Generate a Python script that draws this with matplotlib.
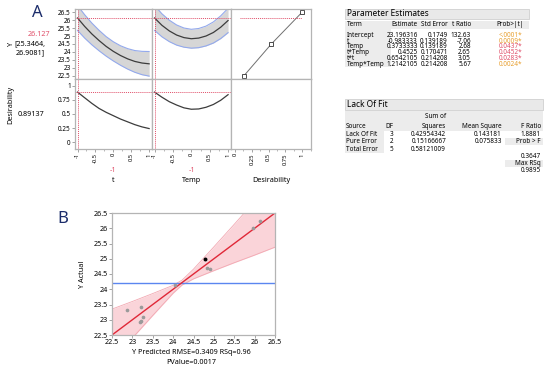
import numpy as np
import matplotlib.pyplot as plt
from matplotlib.patches import Rectangle
from matplotlib.ticker import MultipleLocator

plt.rcParams['font.family'] = ['Noto Sans', 'DejaVu Sans']
plt.rcParams['axes.unicode_minus'] = False

W, H = 550, 373

# ---- panel A: prediction profiler ----
fx = [-1, -0.8, -0.6, -0.4, -0.2, 0, 0.2, 0.4, 0.6, 0.8, 1]
y_t = [26.13, 25.60, 25.13, 24.72, 24.35, 24.04, 23.78, 23.57, 23.41, 23.31, 23.26]
y_t_lo = [25.35, 24.87, 24.45, 24.08, 23.74, 23.44, 23.17, 22.93, 22.73, 22.58, 22.49]
y_t_hi = [26.91, 26.33, 25.81, 25.36, 24.96, 24.64, 24.39, 24.21, 24.09, 24.04, 24.03]
y_temp = [26.13, 25.67, 25.32, 25.06, 24.90, 24.83, 24.87, 25.00, 25.22, 25.55, 25.97]
y_temp_lo = [25.35, 24.95, 24.65, 24.43, 24.30, 24.24, 24.27, 24.38, 24.56, 24.84, 25.21]
y_temp_hi = [26.91, 26.39, 25.99, 25.69, 25.50, 25.42, 25.47, 25.62, 25.88, 26.26, 26.73]
d_t = [0.891, 0.79, 0.69, 0.60, 0.53, 0.47, 0.41, 0.36, 0.31, 0.27, 0.24]
d_temp = [0.891, 0.80, 0.72, 0.66, 0.61, 0.585, 0.59, 0.62, 0.67, 0.745, 0.845]
desir_x = [0.13, 0.54, 1.0]
desir_y = [22.5, 24.5, 26.5]
cur_y = 26.127
cur_d = 0.89137
cur_x = -1
factor_ticks = [-1, -0.5, 0, 0.5, 1]
factor_labels = ['-1', '-0.5', '0', '0.5', '1']
d_ticks = [0, 0.25, 0.5, 0.75, 1]
d_labels = ['0', '0.25', '0.5', '0.75', '1']
y_ticks = [22.5, 23, 23.5, 24, 24.5, 25, 25.5, 26, 26.5]
y_labels = ['22.5', '23', '23.5', '24', '24.5', '25', '25.5', '26', '26.5']

# ---- parameter estimates ----
terms = ['Intercept', 't', 'Temp', 't*Temp', 't*t', 'Temp*Temp']
estimates = ['23.196316', '-0.983333', '0.3733333', '0.4525', '0.6542105', '1.2142105']
std_err = ['0.1749', '0.139189', '0.139189', '0.170471', '0.214208', '0.214208']
t_ratio = ['132.63', '-7.06', '2.68', '2.65', '3.05', '5.67']
prob_t = ['<.0001*', '0.0009*', '0.0437*', '0.0452*', '0.0283*', '0.0024*']

# ---- lack of fit ----
lof_source = ['Lack Of Fit', 'Pure Error', 'Total Error']
lof_df = ['3', '2', '5']
lof_ss = ['0.42954342', '0.15166667', '0.58121009']
lof_ms = ['0.143181', '0.075833', '']
f_ratio = '1.8881'
prob_f = '0.3647'
max_rsq = '0.9895'

# ---- panel B: actual by predicted ----
pred = [22.87, 23.20, 23.20, 23.18, 23.26, 24.04, 24.84, 24.91, 25.96, 26.12]
actual = [23.33, 23.43, 22.97, 22.92, 23.08, 24.15, 24.71, 24.66, 26.01, 26.23]
sel_pred, sel_actual = [24.79], [25.0]
band_x = [22.5, 23.0, 23.5, 24.0, 24.22, 24.5, 25.0, 25.5, 26.0, 26.5]
band_lo = [21.65, 22.40, 23.14, 23.87, 24.14, 24.34, 24.61, 24.87, 25.12, 25.38]
band_hi = [23.35, 23.60, 23.86, 24.13, 24.30, 24.66, 25.39, 26.13, 26.88, 27.62]
fit_x = [22.5, 26.5]
mean_actual = 24.22

RED = '#e0506a'
ORANGE = '#e8a030'
NAVY = '#1c2d6b'
GRID = '#b4b4b4'

fig = plt.figure(figsize=(W / 100, H / 100), dpi=100)


def box(l, t, r, b):
    return [l / W, 1 - b / H, (r - l) / W, (b - t) / H]


def txt(x, y, s, **kw):
    kw.setdefault('fontsize', 4.6)
    kw.setdefault('va', 'center')
    fig.text(x / W, 1 - y / H, s, **kw)


def rect(l, t, r, b, fc, ec='none'):
    fig.add_artist(Rectangle((l / W, 1 - b / H), (r - l) / W, (b - t) / H,
                             transform=fig.transFigure, facecolor=fc,
                             edgecolor=ec, lw=0.5))


def style(ax):
    for s in ax.spines.values():
        s.set_color(GRID)
        s.set_linewidth(0.9)
    ax.tick_params(length=2, width=0.5, color='#808080', labelsize=4.6, pad=1)
    ax.tick_params(which='minor', length=1.2, width=0.4, color='#808080')


cols = [(75, 152), (152, 231), (231, 311)]
rows = [(9, 79), (79, 149)]
axs = [[fig.add_axes(box(c[0], r[0], c[1], r[1])) for c in cols] for r in rows]

red_dash = dict(color=RED, lw=0.7, ls=(0, (1, 1)))

for j, (yy, lo, hi) in enumerate([(y_t, y_t_lo, y_t_hi), (y_temp, y_temp_lo, y_temp_hi)]):
    ax = axs[0][j]
    ax.fill_between(fx, lo, hi, color='#d6d6d6', lw=0)
    ax.plot(fx, lo, color='#93a9ec', lw=0.8)
    ax.plot(fx, hi, color='#93a9ec', lw=0.8)
    ax.plot(fx, yy, color='#3c3c3c', lw=0.9)
    ax.axhline(cur_y, **red_dash)
    ax.axvline(cur_x, **red_dash)

for j, dd in enumerate([d_t, d_temp]):
    ax = axs[1][j]
    ax.plot(fx, dd, color='#3c3c3c', lw=0.9)
    ax.axhline(cur_d, **red_dash)
    ax.axvline(cur_x, **red_dash)

ax = axs[0][2]
ax.plot(desir_x, desir_y, color='#707070', lw=0.7, marker='s', ms=2.2,
        mfc='white', mec='#303030', mew=0.6)
ax.plot([0.07, 1.0], [cur_y, cur_y], **red_dash)

for i in range(2):
    for j in range(3):
        ax = axs[i][j]
        style(ax)
        if j < 2:
            ax.set_xticks(factor_ticks)
            ax.set_xticklabels(factor_labels)
            ax.xaxis.set_minor_locator(MultipleLocator(0.25))
            ax.set_xlim(-1.07, 1.08)
        else:
            ax.set_xticks(d_ticks)
            ax.set_xticklabels(d_labels)
            ax.xaxis.set_minor_locator(MultipleLocator(0.125))
            ax.set_xlim(-0.06, 1.13)
        if i == 0:
            ax.set_yticks(y_ticks)
            ax.set_yticklabels(y_labels)
            ax.set_ylim(22.31, 26.69)
            ax.tick_params(axis='x', which='both', bottom=False, labelbottom=False)
        else:
            ax.set_yticks(d_ticks)
            ax.set_yticklabels(d_labels)
            ax.set_ylim(-0.125, 1.125)
            ax.tick_params(axis='x', labelrotation=90, labelsize=4.2)
        if j > 0:
            ax.tick_params(axis='y', which='both', left=False, labelleft=False)

txt(37, 13, 'A', fontsize=12, fontweight='bold', color=NAVY, ha='center')
txt(39, 34, '26.127', color=RED, fontsize=5.2, ha='center')
txt(11, 44, 'Y', fontsize=5.2, rotation=90, ha='center')
txt(30, 44, '[25.3464,', fontsize=5.2, ha='center')
txt(30, 53, '26.9081]', fontsize=5.2, ha='center')
txt(11, 105, 'Desirability', fontsize=5.2, rotation=90, ha='center')
txt(31, 114, '0.89137', fontsize=5.2, ha='center')
txt(113, 170, '-1', color=RED, fontsize=5.2, ha='center')
txt(192, 170, '-1', color=RED, fontsize=5.2, ha='center')
txt(113, 181, 't', fontsize=5.2, ha='center')
txt(192, 181, 'Temp', fontsize=5.2, ha='center')
txt(271, 181, 'Desirability', fontsize=5.2, ha='center')

# ---- parameter estimates table ----
rect(345, 9, 529, 19, '#e9e9e9', '#c8c8c8')
txt(347, 14, 'Parameter Estimates', fontsize=6, fontweight='bold')
rect(345, 21, 529, 29, '#ececec')
rect(345, 29, 391, 67, '#ececec')
txt(347, 25, 'Term', fontweight='bold')
txt(418, 25, 'Estimate', fontweight='bold', ha='right')
txt(448, 25, 'Std Error', fontweight='bold', ha='right')
txt(471, 25, 't Ratio', fontweight='bold', ha='right')
txt(496, 25, 'Prob>|t|', fontweight='bold')
row_y = [35.7, 41.3, 47, 52.7, 58.3, 64]
for k in range(len(terms)):
    y = row_y[k]
    txt(347, y, terms[k])
    txt(418, y, estimates[k], ha='right')
    txt(448, y, std_err[k], ha='right')
    txt(471, y, t_ratio[k], ha='right')
    p = prob_t[k]
    pval = 0.0 if p.startswith('<') else float(p.rstrip('*'))
    txt(499, y, p, color=ORANGE if pval < 0.01 else RED)

# ---- lack of fit table ----
rect(345, 99, 543, 110, '#e9e9e9', '#c8c8c8')
txt(347, 104.5, 'Lack Of Fit', fontsize=6, fontweight='bold')
rect(345, 111, 543, 131, '#ececec')
rect(345, 131, 384, 153, '#ececec')
txt(446, 117, 'Sum of', fontweight='bold', ha='right')
txt(346, 127, 'Source', fontweight='bold')
txt(393, 127, 'DF', fontweight='bold', ha='right')
txt(446, 127, 'Squares', fontweight='bold', ha='right')
txt(502, 127, 'Mean Square', fontweight='bold', ha='right')
txt(541, 127, 'F Ratio', fontweight='bold', ha='right')
lof_y = [134.3, 141.7, 149]
for k in range(len(lof_source)):
    y = lof_y[k]
    txt(346, y, lof_source[k])
    txt(393, y, lof_df[k], ha='right')
    txt(446, y, lof_ss[k], ha='right')
    txt(502, y, lof_ms[k], ha='right')
txt(541, 134.3, f_ratio, ha='right')
rect(505, 138, 543, 145.5, '#ececec')
txt(541, 141.7, 'Prob > F', fontweight='bold', ha='right')
txt(541, 156, prob_f, ha='right')
rect(505, 159.5, 543, 167, '#ececec')
txt(541, 163.3, 'Max RSq', fontweight='bold', ha='right')
txt(541, 170.7, max_rsq, ha='right')

# ---- panel B ----
axb = fig.add_axes(box(112, 213, 275, 335))
axb.fill_between(band_x, band_lo, band_hi, color='#fad4d9', lw=0)
axb.plot(band_x, band_lo, color='#f2a8b2', lw=0.6)
axb.plot(band_x, band_hi, color='#f2a8b2', lw=0.6)
axb.axhline(mean_actual, color='#5b86f0', lw=1.0)
axb.plot(fit_x, fit_x, color='#e02838', lw=1.0)
axb.scatter(pred, actual, s=7, color='#9a9a9a', zorder=3, lw=0)
axb.scatter(sel_pred, sel_actual, s=8, color='black', zorder=4, lw=0)
axb.set_xticks(y_ticks)
axb.set_xticklabels(y_labels)
axb.set_yticks(y_ticks)
axb.set_yticklabels(y_labels)
axb.set_xlim(22.5, 26.5)
axb.set_ylim(22.5, 26.5)
style(axb)
axb.tick_params(labelsize=5.2)
txt(83, 274, 'Y Actual', fontsize=5.2, rotation=90, ha='center')
txt(191, 352, 'Y Predicted RMSE=0.3409 RSq=0.96', fontsize=5.2, ha='center')
txt(191, 362, 'PValue=0.0017', fontsize=5.2, ha='center')
txt(63, 219, 'B', fontsize=12, fontweight='bold', color=NAVY, ha='center')

fig.savefig('out.png', dpi=100)
